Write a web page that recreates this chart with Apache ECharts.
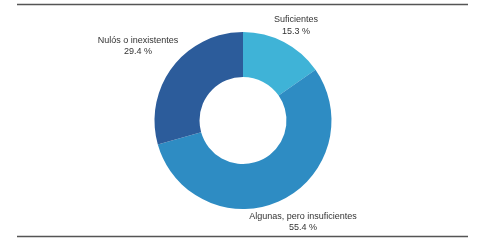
<!DOCTYPE html>
<html>
<head>
<meta charset="utf-8">
<script src="https://cdn.jsdelivr.net/npm/echarts@6/dist/echarts.min.js"></script>
<style>html,body{margin:0;padding:0;background:#fff}#c{width:486px;height:247px}</style>
</head>
<body>
<div id="c"></div>
<script>
const categories = ['Suficientes', 'Algunas, pero insuficientes', 'Nulós o inexistentes'];
const values = [15.3, 55.4, 29.4];
const valueLabels = ['15.3 %', '55.4 %', '29.4 %'];

const colors = ['#3fb3d7', '#2e8cc3', '#2c5c9b'];
const labelPos = [[296, 25.5], [303, 222], [138, 46]];

const chart = echarts.init(document.getElementById('c'), null, {renderer: 'canvas'});
chart.setOption({
  animation: false,
  backgroundColor: '#fff',
  graphic: [
    {type: 'line', shape: {x1: 17, y1: 4.5, x2: 468, y2: 4.5}, style: {stroke: '#555', lineWidth: 1.5}},
    {type: 'line', shape: {x1: 17, y1: 236.5, x2: 468, y2: 236.5}, style: {stroke: '#555', lineWidth: 1.5}}
  ],
  series: [{
    type: 'pie',
    center: [243, 120.5],
    radius: [43.5, 88.5],
    startAngle: 90,
    clockwise: true,
    silent: true,
    itemStyle: {borderWidth: 0},
    label: {
      show: true,
      position: 'outside',
      formatter: p => p.name + '\n' + valueLabels[p.dataIndex],
      fontFamily: 'Liberation Sans, Arial, sans-serif',
      fontSize: 9,
      lineHeight: 11.5,
      color: '#333',
      align: 'center'
    },
    labelLine: {show: false},
    labelLayout: p => ({x: labelPos[p.dataIndex][0], y: labelPos[p.dataIndex][1], align: 'center', verticalAlign: 'middle'}),
    data: categories.map((c, i) => ({name: c, value: values[i], itemStyle: {color: colors[i]}}))
  }]
});
</script>
</body>
</html>
